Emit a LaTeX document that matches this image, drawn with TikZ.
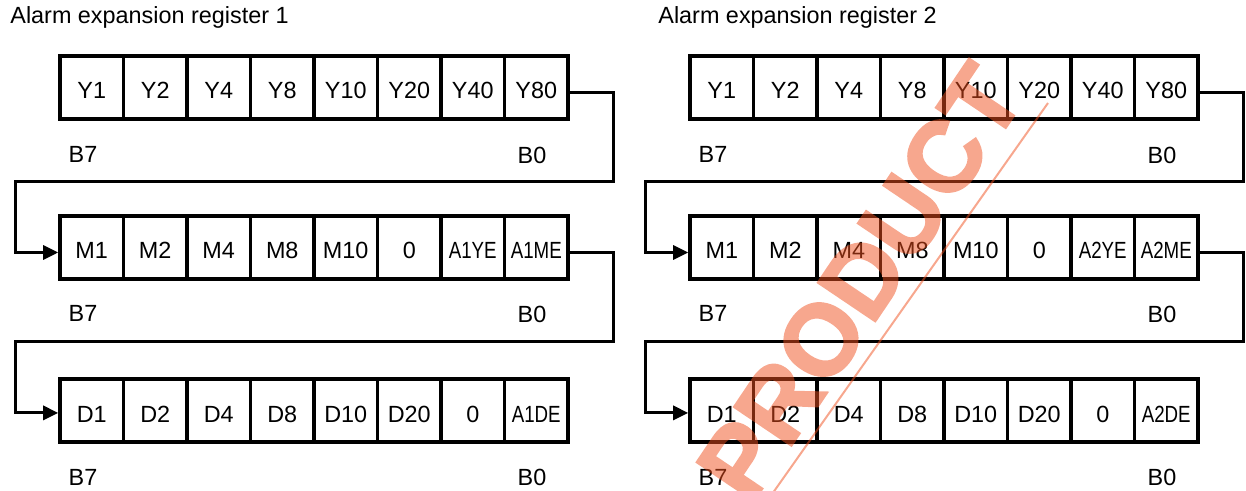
\documentclass[tikz,border=0pt]{standalone}
\usepackage{fontspec}
\setmainfont{Liberation Sans}
\newfontfamily\stampfont[FakeBold=2.5]{Liberation Sans Bold}
\usepackage{graphicx}
\usetikzlibrary{arrows.meta, positioning}

\definecolor{stampred}{RGB}{240,80,30}

\begin{document}
\begin{tikzpicture}[
    x=0.5pt, y=-0.5pt,
    >={Triangle[length=7.5pt,width=7pt]},
    cell/.style={rectangle, draw, line width=1.8pt, minimum width=31.75pt, minimum height=31.5pt, inner sep=0pt, text height=11.5pt, text depth=0pt, font=\fontsize{11.7}{14}\selectfont},
    lbl/.style={inner sep=0pt, font=\fontsize{11.7}{14}\selectfont},
    link/.style={->, line width=1.5pt}
  ]
    \useasboundingbox (0,0) rectangle (1246,491);

    \node[lbl, anchor=west] (title1) at (10,17) {Alarm expansion register 1};
    \node[lbl, anchor=west] (title2) at (658,17) {Alarm expansion register 2};

    \foreach \r/\dx in {1/0, 2/630} {
      % three byte rows, B7 on the left
      \foreach \t [count=\i] in {Y1,Y2,Y4,Y8,Y10,Y20,Y40,Y80}
        \node[cell] (y\r\i) at ({\dx+91.75+63.5*(\i-1)},87.5) {\t};
      \foreach \t [count=\i] in {M1,M2,M4,M8,M10,0,\scalebox{0.8}[1]{A\r YE},\scalebox{0.8}[1]{A\r ME}}
        \node[cell] (m\r\i) at ({\dx+91.75+63.5*(\i-1)},247.5) {\t};
      \foreach \t [count=\i] in {D1,D2,D4,D8,D10,D20,0,\scalebox{0.8}[1]{A\r DE}}
        \node[cell] (d\r\i) at ({\dx+91.75+63.5*(\i-1)},410.5) {\t};

      \node[lbl] (yhi\r) at (\dx+83,154) {B7};
      \node[lbl] (ylo\r) at (\dx+532,155) {B0};
      \node[lbl] (mhi\r) at (\dx+83,313) {B7};
      \node[lbl] (mlo\r) at (\dx+532,314) {B0};
      \node[lbl] (dhi\r) at (\dx+83,477) {B7};
      \node[lbl] (dlo\r) at (\dx+532,477) {B0};

      % bit order runs on into the next row
      \draw[link] ([yshift=-2.5pt]y\r8.east) -- ++(44,0) |- (\dx+15,182) |- ([yshift=-2.5pt]m\r1.west);
      \draw[link] ([yshift=-2.5pt]m\r8.east) -- ++(44,0) |- (\dx+15,342) |- ([yshift=-1.2pt]d\r1.west);
    }

    % stamp over the second register
    \begin{scope}
      \clip (0,0) rectangle (1246,491);
      \begin{scope}[transparency group, opacity=0.5]
        \node[rotate=56, text=stampred, inner sep=0pt, font=\stampfont\fontsize{50}{50}\selectfont] (stamp) at (860,282) {PRODUCT};
      \end{scope}
      \draw[stampred, opacity=0.5, line width=1pt] (1048,103) -- (770,497);
    \end{scope}
  \end{tikzpicture}
\end{document}
